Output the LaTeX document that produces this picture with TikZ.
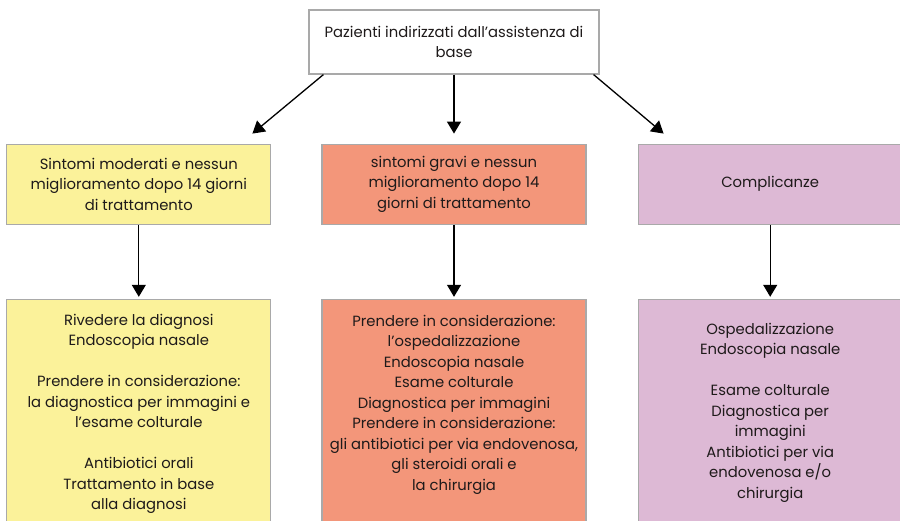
\documentclass[tikz,border=0pt]{standalone}
\usepackage{fontspec}
\setmainfont{Poppins}
\usepackage{tikz}
\usetikzlibrary{positioning,arrows.meta}
\definecolor{giallo}{HTML}{FBF29A}
\definecolor{salmone}{HTML}{F3967A}
\definecolor{lilla}{HTML}{DDB9D5}
\definecolor{bordo}{HTML}{A9A9A9}
\definecolor{testo}{HTML}{1E1A1A}
\tikzset{
  box/.style={draw=bordo,line width=1.2pt,minimum width=264pt,minimum height=80pt,
    inner sep=0pt,align=center,text=testo},
  tall/.style={box,minimum height=240pt},
  blocco/.style={inner sep=0pt,align=center,text=testo},
  freccia/.style={line width=1.3pt,-{Triangle[width=14pt,length=12pt]}}
}

\begin{document}
\begin{tikzpicture}[x=1pt,y=1pt,font=\fontsize{14.8}{20.5}\selectfont]
                \useasboundingbox (0,0) rectangle (900,520);
                \clip (0,0) rectangle (900,520);
                \node[box,fill=white,minimum width=290pt,minimum height=64pt] (base) at (454,478)
                    {Pazienti indirizzati dall’assistenza di\\base};
                \node[box,fill=salmone,below=69pt of base] (gravi)
                    {sintomi gravi e nessun\\miglioramento dopo 14\\giorni di trattamento};
                \node[box,fill=giallo,left=50pt of gravi] (moderati)
                    {Sintomi moderati e nessun\\miglioramento dopo 14 giorni\\di trattamento};
                \node[box,fill=lilla,right=51pt of gravi] (complicanze) {Complicanze};
                \node[tall,fill=giallo,below=74pt of moderati] (moderati3) {};
                \node[tall,fill=salmone,below=74pt of gravi] (gravi3) {};
                \node[tall,fill=lilla,below=74pt of complicanze] (complicanze3) {};
                \node[blocco,below=15pt of moderati3.north] (moderatiT)
                    {Rivedere la diagnosi\\Endoscopia nasale\\[20.5pt]
                     Prendere in considerazione:\\la diagnostica per immagini e\\l’esame colturale\\[20.5pt]
                     Antibiotici orali\\Trattamento in base\\alla diagnosi};
                \node[blocco,below=16pt of gravi3.north] (graviT)
                    {Prendere in considerazione:\\l’ospedalizzazione\\Endoscopia nasale\\Esame colturale\\
                     Diagnostica per immagini\\Prendere in considerazione:\\gli antibiotici per via endovenosa,\\
                     gli steroidi orali e\\la chirurgia};
                \node[blocco,below=24pt of complicanze3.north] (complicanzeT)
                    {Ospedalizzazione\\Endoscopia nasale\\[20.5pt]
                     Esame colturale\\Diagnostica per\\immagini\\Antibiotici per via\\endovenosa e/o\\chirurgia};
                \draw[freccia] ([xshift=15pt]base.south west) -- ([xshift=-19pt,yshift=10pt]moderati.north east);
                \draw[freccia] (base.south) -- ([yshift=10pt]gravi.north);
                \draw[freccia] ([xshift=-6pt]base.south east) -- ([xshift=26pt,yshift=10pt]complicanze.north west);
                \draw[freccia,shorten >=2pt] (moderati) -- (moderati3);
                \draw[freccia,shorten >=2pt] (gravi) -- (gravi3);
                \draw[freccia,shorten >=2pt] (complicanze) -- (complicanze3);
            \end{tikzpicture}
\end{document}
